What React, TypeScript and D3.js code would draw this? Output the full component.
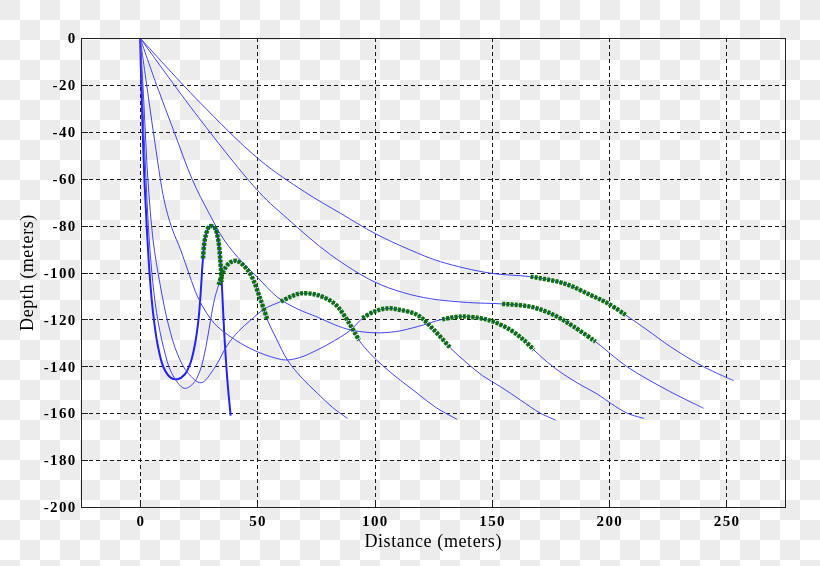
import React from "react";
import * as d3 from "d3";

type P = [number, number];

const xTicks = [0, 50, 100, 150, 200, 250];
const yTicks = [0, -20, -40, -60, -80, -100, -120, -140, -160, -180, -200];

const ray1: P[] = [[0,0],[0.5,-20],[1.1,-40],[1.8,-60],[2.8,-80],[4,-100],[5.5,-117],[7.5,-131],[10,-140.5],[13,-144.8],[16,-145.5],[19,-143.5],[21.5,-138.5],[23.5,-130],[25,-119],[26,-106],[26.8,-94],[27.8,-85],[29.7,-80.2],[31.8,-81],[33.3,-86],[34.2,-95],[34.8,-104],[35.8,-124.5],[37.2,-145.8],[38.6,-161]];
const ray2: P[] = [[0,0],[0.8,-20],[1.6,-40],[2.5,-60],[3.5,-80],[5,-100],[7,-117],[10,-132],[13.5,-143],[18.8,-149.4],[22.5,-147.5],[25.5,-142],[28,-132],[30,-120.5],[31.8,-111],[33.5,-105.3],[35.5,-99.5],[38,-96],[40.8,-95],[43.5,-96.5],[47.2,-101],[51.4,-111.7],[54.3,-120.3],[58,-128],[62.8,-137.3],[69,-145],[75.6,-151.5],[82,-157.5],[88.4,-162.2]];
const ray3: P[] = [[0,0],[1.2,-20],[2.2,-40],[3.3,-60],[5.5,-86],[8.5,-105],[12,-122],[16,-135],[20.5,-143],[26,-147],[31.5,-141],[37.2,-131],[42,-125],[47.2,-120.3],[53,-115.5],[60,-112.4],[64.2,-110.3],[68.5,-108.9],[75.6,-109.6],[82.7,-113.1],[86.9,-118.1],[93.3,-128.8],[98,-134.5],[104,-140.2],[111,-146],[118.2,-151.5],[126,-157.5],[135.2,-162.6]];
const ray4: P[] = [[0,0],[3.5,-25],[6.8,-48],[10.2,-69],[13.5,-81],[17.3,-90.4],[21,-101],[24.5,-110.3],[28.5,-117.5],[33,-123.1],[42.9,-130.2],[50,-133.8],[55.7,-135.9],[62,-137.3],[68,-136.3],[75.6,-133],[83,-129],[89.8,-124.5],[94.8,-119.5],[99.7,-116.7],[105.4,-115.3],[111.1,-116],[118.2,-118.1],[125.3,-124.5],[132.4,-132.3],[139.5,-138.7],[146,-144],[153.7,-148.7],[162.2,-154.4],[170.7,-160],[177.1,-162.9]];
const ray5: P[] = [[0,0],[7,-20],[14.5,-40],[22.3,-60.5],[29,-74],[35.8,-86.1],[43,-95],[50,-102],[58.5,-110.5],[67,-115.5],[75.6,-119],[83,-122.3],[89.8,-124.5],[99.7,-125.7],[109,-125.2],[118.2,-123.1],[128.8,-120],[136.6,-118.8],[145.2,-119.5],[150.8,-121],[157.9,-124.5],[163.6,-128.8],[167.9,-133],[173.6,-138.2],[180.7,-143.5],[188,-148],[194.9,-151.8],[201,-156],[207.7,-160],[214.8,-162.2]];
const ray6: P[] = [[0,0],[25,-34],[51,-66],[62.8,-77],[81.3,-92.5],[99.7,-103.9],[112,-108.5],[123.9,-111.2],[140,-112.8],[154.4,-113.4],[166.5,-114.6],[176.4,-118.1],[184.9,-123.1],[194.2,-129.5],[207.7,-140.2],[224.7,-150.1],[240.3,-157.9]];
const ray7: P[] = [[0,0],[25,-27],[51,-52],[70,-65.5],[85.5,-74.8],[100.4,-83.5],[115,-90.3],[128.1,-95.4],[149.4,-100.3],[166.5,-101.8],[180.7,-104.6],[192,-109.6],[199.2,-113],[207,-118.1],[216.2,-124.5],[226.1,-131.6],[240.3,-140.2],[253.1,-146.1]];

const rays: P[][] = [ray1, ray2, ray3, ray4, ray5, ray6, ray7];
// distance range (start, end) of the green-marked part of each ray
const greenRanges: P[] = [[26.8, 34.8], [33.5, 54.3], [60, 93.3], [94.8, 132.4], [128.8, 167.9], [154.4, 194.2], [166.5, 207]];

const W = 820;
const H = 566;

export default function App() {
  const x = d3.scaleLinear().domain([-25, 275]).range([81.5, 785]);
  const y = d3.scaleLinear().domain([-200, 0]).range([507, 38]);
  const line = d3
    .line<P>()
    .x((d) => x(d[0]))
    .y((d) => y(d[1]))
    .curve(d3.curveCatmullRom.alpha(0.5));

  const [x0, x1] = x.range();
  const [y0, y1] = y.range();
  const serif = "'Liberation Serif', 'DejaVu Serif', serif";

  return (
    <div style={{ position: "fixed", left: 0, top: 0, width: W, height: H }}>
      <svg width={W} height={H} style={{ display: "block" }}>
        <defs>
          <pattern id="checker" width={40} height={40} patternUnits="userSpaceOnUse">
            <rect width={40} height={40} fill="#ffffff" />
            <rect x={0} y={0} width={20} height={20} fill="#ececec" />
            <rect x={20} y={20} width={20} height={20} fill="#ececec" />
          </pattern>
          <clipPath id="plotclip">
            <rect x={x0} y={y1} width={x1 - x0} height={y0 - y1} />
          </clipPath>
        </defs>
        <rect width={W} height={H} fill="url(#checker)" />

        {/* grid */}
        <g stroke="#1a1a1a" strokeWidth={1} strokeDasharray="4,3" shapeRendering="crispEdges">
          {xTicks.map((t) => (
            <line key={"gx" + t} x1={Math.round(x(t)) + 0.5} x2={Math.round(x(t)) + 0.5} y1={y1} y2={y0} />
          ))}
          {yTicks.slice(1, -1).map((t) => (
            <line key={"gy" + t} x1={x0} x2={x1} y1={Math.round(y(t)) + 0.5} y2={Math.round(y(t)) + 0.5} />
          ))}
        </g>

        {/* rays */}
        <g clipPath="url(#plotclip)" fill="none">
          {rays.map((r, i) => (
            <path key={"r" + i} d={line(r) || ""} stroke={i === 0 ? "#2323f5" : "#4444ee"} strokeWidth={i === 0 ? 2 : 1} />
          ))}
          {rays.map((r, i) => {
            const [a, b] = greenRanges[i];
            const seg = r.filter((p) => p[0] >= a && p[0] <= b);
            return (
              <path
                key={"g" + i}
                d={line(seg) || ""}
                stroke="#0b700b"
                strokeWidth={4.5}
                strokeDasharray="3,1.2"
              />
            );
          })}
        </g>

        {/* axes box */}
        <rect x={x0} y={y1} width={x1 - x0} height={y0 - y1} fill="none" stroke="#222" strokeWidth={1} shapeRendering="crispEdges" />
        <g stroke="#222" strokeWidth={1} shapeRendering="crispEdges">
          {yTicks.map((t) => (
            <line key={"ty" + t} x1={x0} x2={x0 + 6} y1={Math.round(y(t)) + 0.5} y2={Math.round(y(t)) + 0.5} />
          ))}
          {xTicks.map((t) => (
            <line key={"tx" + t} x1={Math.round(x(t)) + 0.5} x2={Math.round(x(t)) + 0.5} y1={y0} y2={y0 - 6} />
          ))}
        </g>

        {/* tick labels */}
        <g fontFamily={serif} fontWeight="bold" fontSize={15} fill="#000" letterSpacing={1.3}>
          {yTicks.map((t) => (
            <text key={"ly" + t} x={x0 - 5} y={y(t)} dy="0.35em" textAnchor="end">
              {t}
            </text>
          ))}
          {xTicks.map((t) => (
            <text key={"lx" + t} x={x(t) + 0.7} y={y0 + 19} textAnchor="middle">
              {t}
            </text>
          ))}
        </g>

        {/* axis titles */}
        <text x={(x0 + x1) / 2} y={547} textAnchor="middle" fontFamily={serif} fontSize={18} letterSpacing={0.6} fill="#000">
          Distance (meters)
        </text>
        <text
          transform={`translate(33, ${(y0 + y1) / 2}) rotate(-90)`}
          textAnchor="middle"
          fontFamily={serif}
          fontSize={18}
          letterSpacing={0.6}
          fill="#000"
        >
          Depth (meters)
        </text>
      </svg>
    </div>
  );
}
